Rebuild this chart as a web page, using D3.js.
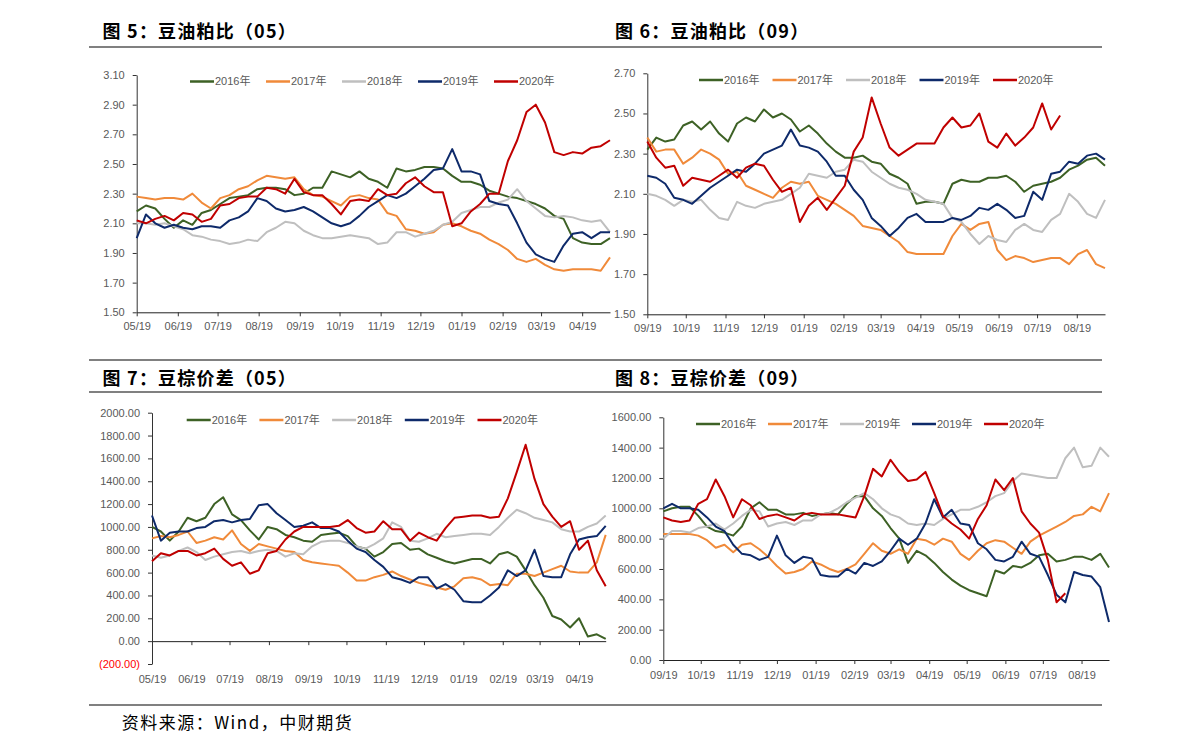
<!DOCTYPE html>
<html><head><meta charset="utf-8">
<script src="https://cdn.jsdelivr.net/npm/d3@7"></script>
<style>body{margin:0;background:#fff}svg{display:block}</style>
</head><body>
<svg id="c" width="1191" height="751"></svg>
<script>
// ---------------- data (weekly samples) ----------------
const seriesNames05 = ["2016年","2017年","2018年","2019年","2020年"];
const seriesNames09b = ["2016年","2017年","2019年","2019年","2020年"];
const seriesColors = ["#3D6125","#F08A3A","#BFBFBF","#0E2A6A","#C00000"];

const xTickLabels05 = ["05/19","06/19","07/19","08/19","09/19","10/19","11/19","12/19","01/19","02/19","03/19","04/19"];
const xTickLabels09 = ["09/19","10/19","11/19","12/19","01/19","02/19","03/19","04/19","05/19","06/19","07/19","08/19"];

const ratioTicks05 = [1.50,1.70,1.90,2.10,2.30,2.50,2.70,2.90,3.10];
const ratioTicks09 = [1.50,1.70,1.90,2.10,2.30,2.50,2.70];
const spreadTicks05 = [-200,0,200,400,600,800,1000,1200,1400,1600,1800,2000];
const spreadTicks09 = [0,200,400,600,800,1000,1200,1400,1600];

// 图5 豆油粕比(05)
const ratio05_y2016 = [2.18,2.22,2.20,2.13,2.07,2.12,2.09,2.17,2.19,2.23,2.27,2.28,2.29,2.33,2.34,2.34,2.33,2.29,2.30,2.34,2.34,2.45,2.43,2.41,2.45,2.40,2.38,2.34,2.47,2.45,2.46,2.48,2.48,2.47,2.42,2.38,2.38,2.36,2.32,2.30,2.28,2.27,2.25,2.23,2.20,2.15,2.13,2.00,1.97,1.96,1.96,2.00];
const ratio05_y2017 = [2.28,2.27,2.26,2.27,2.27,2.26,2.30,2.24,2.20,2.27,2.29,2.33,2.35,2.39,2.42,2.41,2.40,2.41,2.33,2.29,2.28,2.25,2.22,2.28,2.29,2.27,2.26,2.17,2.15,2.06,2.05,2.03,2.04,2.09,2.10,2.08,2.05,2.03,1.99,1.96,1.92,1.86,1.84,1.86,1.82,1.79,1.78,1.79,1.79,1.79,1.78,1.87];
const ratio05_y2018 = [2.10,2.10,2.09,2.10,2.08,2.06,2.02,2.01,1.99,1.98,1.96,1.97,1.99,1.98,2.04,2.07,2.11,2.10,2.05,2.02,2.00,2.00,2.01,2.02,2.01,2.00,1.96,1.97,2.04,2.04,2.01,2.03,2.05,2.09,2.11,2.17,2.19,2.21,2.21,2.24,2.26,2.33,2.25,2.20,2.15,2.14,2.15,2.14,2.12,2.11,2.12,2.04];
const ratio05_y2019 = [2.00,2.16,2.10,2.07,2.09,2.07,2.06,2.08,2.08,2.07,2.12,2.14,2.18,2.27,2.25,2.20,2.18,2.19,2.21,2.18,2.14,2.10,2.08,2.10,2.15,2.21,2.25,2.29,2.27,2.30,2.35,2.40,2.46,2.47,2.60,2.45,2.45,2.43,2.25,2.23,2.22,2.10,1.97,1.89,1.86,1.84,1.95,2.03,2.04,2.00,2.04,2.04];
const ratio05_y2020 = [2.12,2.10,2.13,2.15,2.12,2.17,2.16,2.11,2.13,2.22,2.23,2.27,2.28,2.28,2.34,2.33,2.30,2.40,2.31,2.29,2.29,2.23,2.16,2.25,2.26,2.25,2.33,2.29,2.30,2.37,2.41,2.35,2.31,2.31,2.08,2.10,2.18,2.23,2.30,2.30,2.52,2.66,2.85,2.90,2.78,2.58,2.56,2.58,2.57,2.61,2.62,2.66];

// 图6 豆油粕比(09)
const ratio09_y2016 = [2.32,2.38,2.36,2.37,2.44,2.46,2.42,2.46,2.40,2.36,2.45,2.48,2.46,2.52,2.48,2.50,2.47,2.41,2.44,2.40,2.35,2.31,2.28,2.28,2.29,2.26,2.25,2.20,2.18,2.15,2.05,2.06,2.06,2.05,2.15,2.17,2.16,2.16,2.18,2.18,2.19,2.16,2.11,2.14,2.15,2.16,2.18,2.22,2.24,2.27,2.28,2.24];
const ratio09_y2017 = [2.38,2.31,2.32,2.32,2.25,2.28,2.32,2.30,2.27,2.20,2.21,2.14,2.12,2.10,2.08,2.13,2.16,2.15,2.16,2.09,2.07,2.05,2.02,1.99,1.94,1.93,1.92,1.89,1.86,1.81,1.80,1.80,1.80,1.80,1.89,1.95,1.92,1.95,1.96,1.82,1.77,1.79,1.78,1.76,1.77,1.78,1.78,1.75,1.80,1.82,1.75,1.73];
const ratio09_y2018 = [2.10,2.09,2.07,2.04,2.07,2.06,2.07,2.02,1.98,1.97,2.06,2.04,2.03,2.05,2.06,2.07,2.10,2.13,2.20,2.19,2.18,2.21,2.22,2.27,2.26,2.21,2.18,2.15,2.13,2.12,2.10,2.07,2.06,2.05,1.98,1.96,1.90,1.85,1.89,1.87,1.86,1.92,1.95,1.92,1.91,1.97,2.00,2.10,2.06,2.00,1.98,2.07];
const ratio09_y2019 = [2.19,2.18,2.15,2.08,2.07,2.05,2.09,2.13,2.16,2.19,2.22,2.21,2.25,2.30,2.32,2.34,2.42,2.34,2.33,2.31,2.26,2.19,2.19,2.12,2.07,1.98,1.94,1.89,1.93,1.98,2.00,1.96,1.96,1.96,1.98,1.97,1.99,2.03,2.02,2.05,2.02,1.98,1.99,2.11,2.07,2.20,2.21,2.26,2.25,2.29,2.30,2.27];
const ratio09_y2020 = [2.36,2.28,2.23,2.24,2.14,2.18,2.17,2.16,2.19,2.22,2.18,2.23,2.25,2.24,2.17,2.11,2.13,1.96,2.04,2.08,2.02,2.08,2.14,2.31,2.38,2.58,2.45,2.33,2.29,2.32,2.35,2.35,2.35,2.43,2.48,2.43,2.44,2.50,2.36,2.33,2.40,2.34,2.38,2.43,2.55,2.42,2.49];

// 图7 豆棕价差(05)
const spread05_y2016 = [1000,960,880,960,1080,1050,1080,1200,1260,1110,1060,970,890,1000,980,930,910,880,870,930,940,950,920,830,810,740,780,850,860,800,810,760,730,700,680,700,720,720,680,760,780,740,620,490,380,220,190,120,200,40,60,20];
const spread05_y2017 = [900,920,910,930,960,860,880,910,890,970,850,790,850,830,810,790,780,710,690,680,670,660,600,530,530,560,580,610,570,540,510,490,470,450,480,550,560,540,490,500,490,590,590,570,600,630,660,610,600,600,690,930];
const spread05_y2018 = [750,730,750,790,820,780,710,740,760,780,790,770,790,800,790,740,770,760,830,870,880,880,860,830,810,850,900,1040,1000,880,870,900,940,910,920,930,940,940,930,1000,1080,1150,1120,1080,1060,1040,980,960,960,1000,1030,1100];
const spread05_y2019 = [1100,880,950,960,960,990,1000,1050,1060,1040,1060,1070,1190,1200,1120,1060,1000,1010,1040,990,990,960,880,810,780,710,650,560,540,510,560,560,460,500,450,350,340,340,400,470,620,570,620,800,570,560,560,760,890,910,920,1010];
const spread05_y2020 = [700,770,750,790,790,750,770,810,720,660,690,590,620,770,790,890,960,1000,1000,1000,1000,1010,1060,990,950,960,1050,980,980,880,950,910,880,990,1080,1090,1100,1100,1080,1090,1250,1480,1720,1420,1200,1090,1000,1050,800,880,620,480];

// 图8 豆棕价差(09)
const spread09_y2016 = [980,1000,1010,1010,950,880,850,840,820,880,1000,1040,990,990,960,960,970,950,960,970,960,1030,1080,1080,1000,950,870,800,640,720,690,640,580,530,490,460,440,420,590,570,620,610,640,690,700,650,660,680,680,660,700,610];
const spread09_y2017 = [830,830,830,830,820,790,740,760,710,760,770,730,680,620,570,580,600,650,630,600,580,600,630,700,770,720,700,730,700,800,790,760,800,780,700,660,720,770,790,780,740,700,780,820,850,880,910,950,960,1010,980,1100];
const spread09_y2019g = [800,850,850,840,870,880,900,860,900,950,990,980,880,900,910,890,920,920,960,970,1000,1040,1070,1100,1060,1000,960,940,900,890,900,890,930,960,990,990,1010,1040,1080,1100,1180,1230,1220,1210,1200,1200,1330,1400,1270,1280,1400,1340];
const spread09_y2019 = [1000,1030,1000,1000,990,940,880,850,760,700,690,660,680,820,690,640,680,670,560,550,550,600,570,640,620,650,720,800,760,800,900,1060,940,990,900,890,770,730,660,650,680,780,700,680,560,430,380,580,560,550,480,250];
const spread09_y2020 = [940,920,910,920,1030,1060,1190,1080,940,1060,1020,930,950,960,940,920,960,970,960,960,960,950,940,1080,1260,1210,1320,1240,1180,1190,1240,1100,950,900,860,800,930,1020,1190,1120,1200,980,900,840,660,380,440];

const stepDays = 7;
const spanDays = 357;

// ---------------- drawing ----------------
const svg = d3.select("#c");
const parse = d3.timeParse("%Y-%m-%d");
const fmt2 = d3.format(".2f");

function drawPanel(cfg) {
  const start = parse(cfg.start);
  const x = d3.scaleTime().domain([start, d3.timeDay.offset(start, spanDays)]).range([cfg.left, cfg.right]);
  const y = d3.scaleLinear().domain(cfg.yDomain).range([cfg.bottom, cfg.top]);
  const g = svg.append("g");

  // y axis
  const gy = g.append("g").attr("transform", `translate(${cfg.left},0)`)
    .call(d3.axisLeft(y).tickValues(cfg.yTicks).tickSize(4).tickSizeOuter(0)
      .tickFormat(d => d < 0 ? `(${fmt2(-d)})` : fmt2(d)));
  gy.select(".domain").attr("stroke", "#333");
  gy.selectAll(".tick line").attr("stroke", "#333");
  gy.selectAll(".tick text").attr("x", -12)
    .attr("font-family", "'Liberation Sans', Arial, sans-serif").attr("font-size", 11)
    .attr("fill", d => d < 0 ? "#FF0000" : "#595959");

  // x axis
  const ticks = cfg.xLabels.map((l, k) => d3.timeMonth.offset(start, k));
  const gx = g.append("g").attr("transform", `translate(0,${y(cfg.xAxisAt)})`)
    .call(d3.axisBottom(x).tickValues(ticks).tickSize(4).tickSizeOuter(0)
      .tickFormat((d, i) => cfg.xLabels[i]));
  gx.select(".domain").attr("stroke", "#222");
  gx.selectAll(".tick line").attr("stroke", "#333");
  gx.selectAll(".tick text").attr("y", cfg.labelY).attr("dy", "0.71em")
    .attr("font-family", "'Liberation Sans', Arial, sans-serif").attr("font-size", 11)
    .attr("fill", "#595959");

  // series
  const line = d3.line()
    .x((d, i) => x(d3.timeDay.offset(start, stepDays * i)))
    .y(d => y(d));
  cfg.series.forEach((s, k) => {
    g.append("path").datum(s).attr("d", line)
      .attr("fill", "none").attr("stroke", seriesColors[k])
      .attr("stroke-width", 2).attr("stroke-linejoin", "round");
  });

  // legend
  cfg.names.forEach((n, k) => {
    const lx = cfg.legX + k * cfg.legDx;
    g.append("line").attr("x1", lx).attr("x2", lx + 24).attr("y1", cfg.legY).attr("y2", cfg.legY)
      .attr("stroke", seriesColors[k]).attr("stroke-width", 2.5);
    g.append("text").attr("x", lx + 25).attr("y", cfg.legY).attr("dy", "0.35em")
      .attr("font-family", "'Liberation Sans', 'Noto Sans CJK SC', sans-serif").attr("font-size", 11)
      .attr("fill", "#595959").text(n);
  });
}

drawPanel({start: "2019-05-19", left: 136.7, right: 610, top: 75, bottom: 312.3,
  yDomain: [1.5, 3.1], yTicks: ratioTicks05, xAxisAt: 1.5, labelY: 10, xLabels: xTickLabels05,
  series: [ratio05_y2016, ratio05_y2017, ratio05_y2018, ratio05_y2019, ratio05_y2020],
  names: seriesNames05, legX: 190, legDx: 76, legY: 81.5});

drawPanel({start: "2019-09-19", left: 647.3, right: 1105, top: 73.3, bottom: 314.3,
  yDomain: [1.5, 2.7], yTicks: ratioTicks09, xAxisAt: 1.5, labelY: 10, xLabels: xTickLabels09,
  series: [ratio09_y2016, ratio09_y2017, ratio09_y2018, ratio09_y2019, ratio09_y2020],
  names: seriesNames05, legX: 699, legDx: 73.5, legY: 80});

drawPanel({start: "2019-05-19", left: 152, right: 605.7, top: 412.7, bottom: 664,
  yDomain: [-200, 2000], yTicks: spreadTicks05, xAxisAt: 0, labelY: 34, xLabels: xTickLabels05,
  series: [spread05_y2016, spread05_y2017, spread05_y2018, spread05_y2019, spread05_y2020],
  names: seriesNames05, legX: 186.7, legDx: 72.7, legY: 420});

drawPanel({start: "2019-09-19", left: 663.3, right: 1109, top: 417.3, bottom: 660,
  yDomain: [0, 1600], yTicks: spreadTicks09, xAxisAt: 0, labelY: 11, xLabels: xTickLabels09,
  series: [spread09_y2016, spread09_y2017, spread09_y2019g, spread09_y2019, spread09_y2020],
  names: seriesNames09b, legX: 696, legDx: 72, legY: 424});

// titles and rules
const titleFont = "'Noto Sans CJK SC', sans-serif";
[[102.6, 38, "图 5：豆油粕比（05）"], [615, 38, "图 6：豆油粕比（09）"],
 [102.6, 384.5, "图 7：豆棕价差（05）"], [615, 384.5, "图 8：豆棕价差（09）"]].forEach(t => {
  svg.append("text").attr("x", t[0]).attr("y", t[1]).attr("font-family", titleFont)
    .attr("font-size", 18).attr("font-weight", "bold").attr("letter-spacing", 1.2)
    .attr("fill", "#000").text(t[2]);
});
[47, 360, 392, 705].forEach(yy => {
  svg.append("line").attr("x1", 89).attr("x2", 1102).attr("y1", yy).attr("y2", yy)
    .attr("stroke", "#808080").attr("stroke-width", 2);
});
svg.append("text").attr("x", 121.7).attr("y", 729).attr("font-family", titleFont)
  .attr("font-size", 17).attr("letter-spacing", 1.5).attr("fill", "#000").text("资料来源：Wind，中财期货");
</script>
</body></html>
